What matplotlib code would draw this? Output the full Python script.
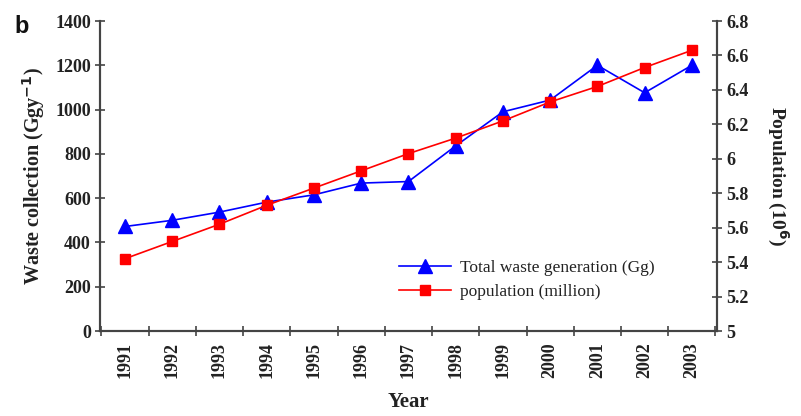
import matplotlib
matplotlib.use('Agg')
import matplotlib.pyplot as plt
from matplotlib.ticker import MultipleLocator

years = [1991, 1992, 1993, 1994, 1995, 1996, 1997, 1998, 1999, 2000, 2001, 2002, 2003]
waste = [472, 500, 537, 582, 615, 668, 675, 836, 990, 1043, 1200, 1076, 1200]
population = [5.42, 5.52, 5.62, 5.73, 5.83, 5.93, 6.03, 6.12, 6.22, 6.33, 6.42, 6.53, 6.63]

serif = ['Liberation Serif', 'DejaVu Serif']
text_color = '#222222'
axis_color = '#444444'

fig = plt.figure(figsize=(8.01, 4.16), dpi=100)
ax1 = fig.add_axes([0.1248, 0.2043, 0.7702, 0.7452])
ax2 = ax1.twinx()

l1, = ax1.plot(years, waste, color='blue', marker='^', markersize=10,
               linewidth=1.2, label='Total waste generation (Gg)')
l2, = ax2.plot(years, population, color='red', marker='s', markersize=6.5,
               linewidth=1.2, label='population (million)')

ax1.set_xlim(1990.47, 2003.53)
ax1.set_ylim(0, 1400)
ax2.set_ylim(5, 6.8)

ax1.set_xticks(years)
ax1.set_xticklabels([str(y) for y in years], rotation=90, fontfamily=serif,
                    fontweight='bold', fontsize=13, color=text_color)
ax1.xaxis.set_minor_locator(MultipleLocator(1, offset=0.5))
ax1.tick_params(axis='x', which='major', length=0, pad=8)
ax1.tick_params(axis='x', which='minor', direction='inout', length=7,
                width=1.2, color=axis_color)

ax1.yaxis.set_major_locator(MultipleLocator(200))
ax1.tick_params(axis='y', direction='inout', length=7, width=1.2,
                color=axis_color, pad=3)
for lab in ax1.get_yticklabels():
    lab.set_fontfamily(serif)
    lab.set_fontweight('bold')
    lab.set_fontsize(13)
    lab.set_color(text_color)

ax2.set_yticks([5, 5.2, 5.4, 5.6, 5.8, 6, 6.2, 6.4, 6.6, 6.8])
ax2.set_yticklabels(['5', '5.2', '5.4', '5.6', '5.8', '6', '6.2', '6.4', '6.6', '6.8'],
                    fontfamily=serif, fontweight='bold', fontsize=13, color=text_color)
ax2.tick_params(axis='y', direction='inout', length=7, width=1.2,
                color=axis_color, pad=3)

for ax in (ax1, ax2):
    ax.spines['top'].set_visible(False)
    for side in ('left', 'right', 'bottom'):
        ax.spines[side].set_color(axis_color)
        ax.spines[side].set_linewidth(1.5)

ax1.set_xlabel('Year', fontfamily=serif, fontweight='bold', fontsize=15,
               color=text_color, labelpad=10)
ax1.set_ylabel('Waste collection (Ggy$^{\\mathbf{-1}}$)', fontfamily=serif,
               fontweight='bold', fontsize=14.5, color=text_color, labelpad=6)
ax2.set_ylabel('Population (10$^{\\mathbf{6}}$)', fontfamily=serif,
               fontweight='bold', fontsize=14, color=text_color, labelpad=30,
               rotation=270)

ax1.legend(handles=[l1, l2], loc='lower left', bbox_to_anchor=(0.46, 0.05),
           frameon=False, prop={'family': serif, 'size': 12.5},
           handlelength=3.0, labelspacing=0.45, handletextpad=0.5,
           labelcolor=text_color)

fig.text(0.018, 0.965, 'b', fontfamily=['Liberation Sans', 'DejaVu Sans'],
         fontweight='bold', fontsize=17, color='#111111', va='top')

fig.savefig('out.png', dpi=100)
